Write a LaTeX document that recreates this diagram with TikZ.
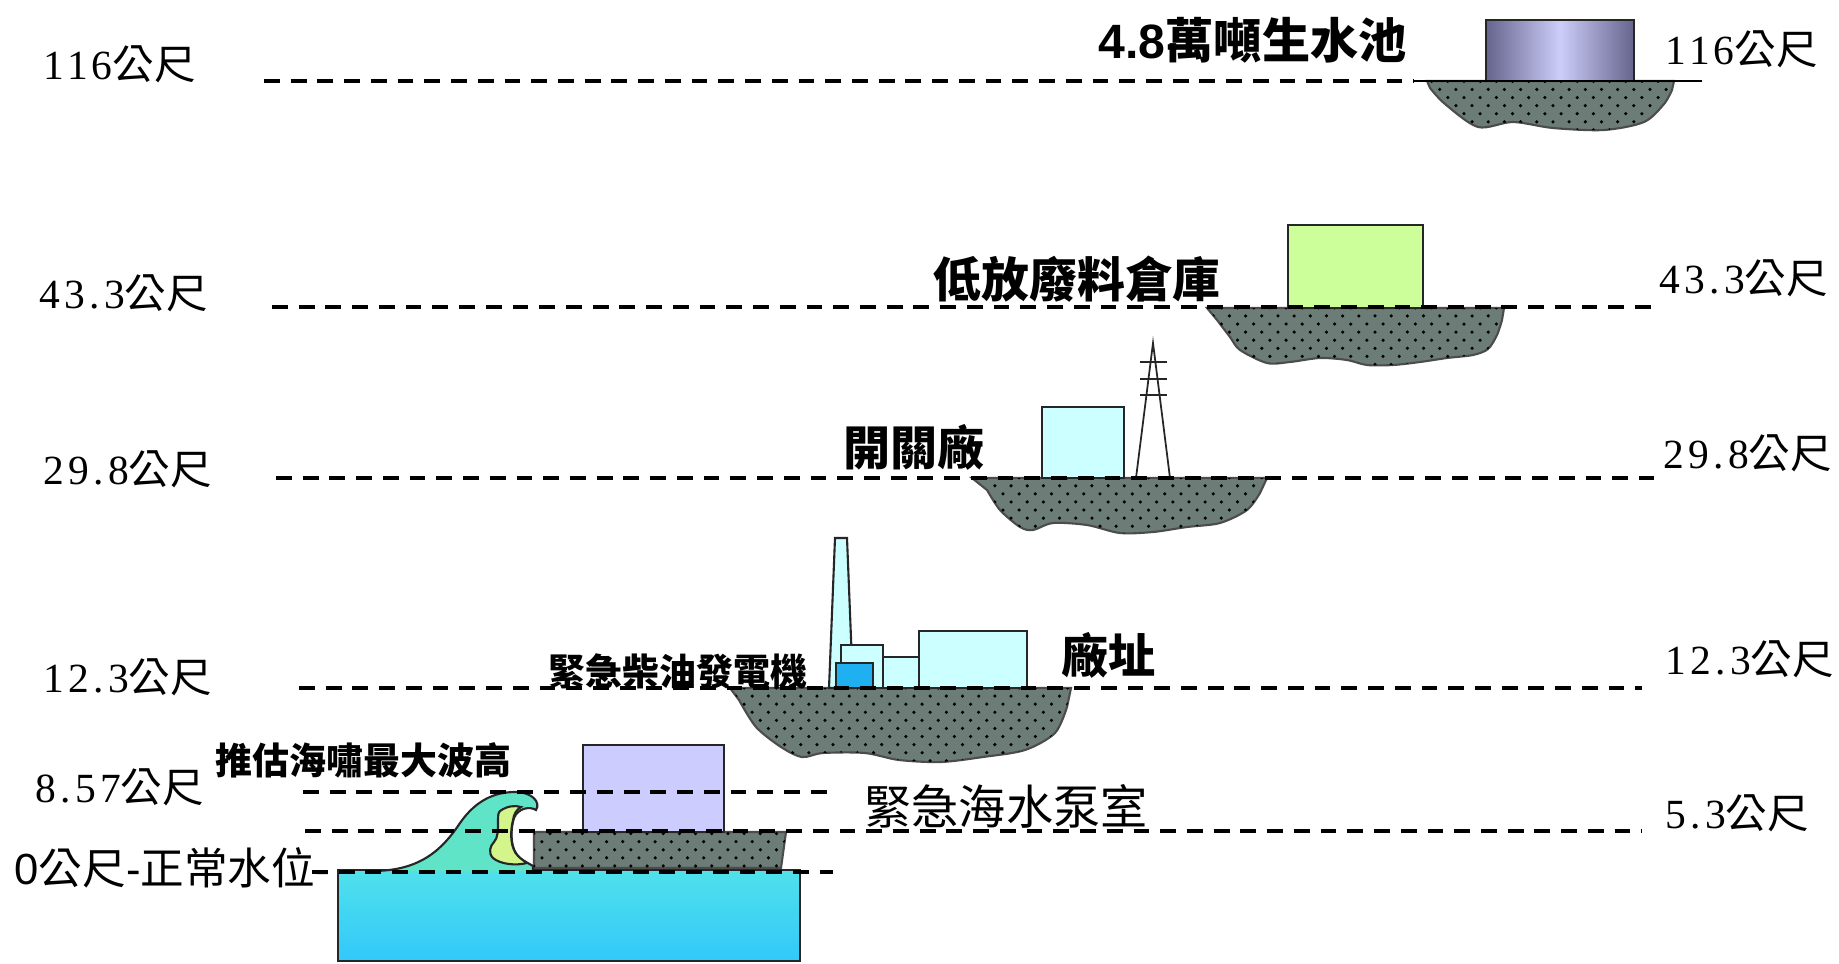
\documentclass[tikz,border=0pt]{standalone}
\usepackage{fontspec}
\setmainfont{Liberation Serif}
\newfontfamily\cjk{Noto Sans CJK TC}
\newfontfamily\arial{Liberation Sans}
\newfontfamily\digitfont[LetterSpace=10]{Liberation Serif}
\usetikzlibrary{patterns}

% staggered dots for the soil fill
\pgfdeclarepatternformonly{gravel}{\pgfqpoint{-0.6pt}{-0.6pt}}{\pgfqpoint{2.9pt}{2.9pt}}{\pgfqpoint{4.6pt}{4.6pt}}{%
  \pgfpathcircle{\pgfqpoint{0pt}{0pt}}{0.5pt}%
  \pgfpathcircle{\pgfqpoint{2.3pt}{2.3pt}}{0.5pt}%
  \pgfusepath{fill}%
}

\definecolor{soil}{RGB}{108,124,118}
\definecolor{building}{RGB}{204,255,255}
\definecolor{dieselblue}{RGB}{30,176,240}
\definecolor{wastegreen}{RGB}{204,255,153}
\definecolor{pumplilac}{RGB}{204,204,255}
\definecolor{pooledge}{RGB}{100,100,140}
\definecolor{poolmid}{RGB}{205,205,250}
\definecolor{seatop}{RGB}{80,225,235}
\definecolor{seabot}{RGB}{50,200,250}
\definecolor{wave}{RGB}{95,228,200}
\definecolor{curl}{RGB}{212,245,140}

\tikzset{
  ground/.style={fill=soil, postaction={pattern=gravel}, draw=black!70, line width=0.6pt},
  house/.style={draw=black!85, line width=0.6pt},
  level/.style={line width=1.1pt, dash pattern=on 4.5pt off 3.1pt},
  lvl/.style={inner sep=0, anchor=west, font=\digitfont\fontsize{11.8}{13}\selectfont},
  tag/.style={inner sep=0, anchor=west, font=\cjk\fontsize{13.4}{15}\selectfont},
  smalltag/.style={inner sep=0, anchor=west, font=\cjk\bfseries\fontsize{10.5}{12}\selectfont},
}

\begin{document}
\begin{tikzpicture}[x=0.01cm, y=-0.01cm]
  \fill[white] (0,0) rectangle (1839,963);
  \useasboundingbox (0,0) rectangle (1839,963);

  % soil under each level
  \draw[ground] (1427,81) -- (1674,81) -- plot[smooth, tension=0.5] coordinates
    {(1672,90) (1664,104) (1644,122) (1604,130) (1553,128) (1513,122) (1478,127) (1445,104) (1430,88)} -- cycle;
  \draw[ground] (1207,308) -- (1504,308) -- plot[smooth, tension=0.5] coordinates
    {(1502,320) (1497,335) (1488,349) (1473,355) (1447,358) (1420,362) (1393,365) (1367,365) (1347,360)
     (1320,358) (1290,362) (1267,363) (1240,350) (1230,337) (1217,320)} -- cycle;
  \draw[ground] (972,478) -- (1267,478) -- plot[smooth, tension=0.5] coordinates
    {(1260,493) (1247,510) (1220,523) (1187,527) (1153,532) (1120,533) (1087,525) (1053,523) (1033,530)
     (1020,527) (1000,510) (987,490)} -- cycle;
  \draw[ground] (730,688) -- (1071,688) -- plot[smooth, tension=0.5] coordinates
    {(1067,707) (1055,733) (1025,750) (983,757) (941,762) (899,760) (865,753) (823,753) (802,757)
     (781,747) (756,727) (739,700)} -- cycle;
  \draw[ground] (534,832) -- (786,832) -- (781,868) -- (534,868) -- cycle;

  % raw water pool
  \shade[left color=pooledge, right color=pooledge, middle color=poolmid] (1486,20) rectangle (1634,81);
  \draw[house] (1486,20) rectangle (1634,81);
  % radwaste store
  \draw[house, fill=wastegreen] (1288,225) rectangle (1423,308);
  % switchyard and pylon
  \draw[house, fill=building] (1042,407) rectangle (1124,478);
  \draw[house, line width=0.5pt] (1136,478) -- (1153,343) -- (1170,478);
  \foreach \y in {362,379,395}
    \draw[house, line width=0.5pt] (1140,\y) -- (1167,\y);
  % plant buildings, stack and diesel house
  \draw[house, fill=building] (829,688) -- (835,538) -- (847,538) -- (853,688) -- cycle;
  \draw[house, fill=building] (841,645) rectangle (883,688);
  \draw[house, fill=building] (883,657) rectangle (919,688);
  \draw[house, fill=building] (919,631) rectangle (1027,688);
  \draw[house, fill=dieselblue] (836,663) rectangle (873,688);
  % sea water pump room
  \draw[house, fill=pumplilac] (583,745) rectangle (724,832);

  % sea and tsunami wave
  \draw[house, top color=seatop, bottom color=seabot] (338,870) rectangle (800,961);
  \draw[house, fill=wave] (372,871)
    .. controls (420,871) and (442,850) .. (460,823)
    .. controls (476,800) and (495,792) .. (515,792)
    .. controls (532,792) and (541,802) .. (536,810)
    .. controls (530,806) and (518,808) .. (514,818)
    .. controls (510,830) and (510,850) .. (520,858)
    .. controls (525,862) and (530,864) .. (533,866) -- (533,871);
  \draw[house, fill=curl] (500,811)
    .. controls (507,806) and (515,805) .. (521,807)
    .. controls (516,810) and (514,814) .. (513,820)
    .. controls (510,832) and (510,848) .. (518,856)
    .. controls (521,859) and (524,861) .. (527,863)
    .. controls (515,866) and (500,864) .. (493,858)
    .. controls (488,853) and (490,846) .. (494,842)
    .. controls (498,838) and (498,830) .. (498,822)
    .. controls (498,816) and (498,813) .. (500,811) -- cycle;

  % elevation lines
  \foreach \xa/\xb/\y in {264/1414/81, 272/1654/307, 276/1654/478, 299/1642/688,
                          303/829/792, 305/1642/831, 312/833/872}
    \draw[level] (\xa,\y) -- (\xb,\y);
  \draw[line width=0.7pt] (1414,81) -- (1702,81);

  % elevations, left side
  \node[lvl] (l116) at (43,64) {116{\cjk 公尺}};
  \node[lvl] (l433) at (39,293) {43.3{\cjk 公尺}};
  \node[lvl] (l298) at (43,469) {29.8{\cjk 公尺}};
  \node[lvl] (l123) at (43,677) {12.3{\cjk 公尺}};
  \node[lvl] (l857) at (35,787) {8.57{\cjk 公尺}};
  \node[lvl, font=\fontsize{12.4}{14}\selectfont] (l0) at (14,868)
    {{\arial 0}{\cjk 公尺}{\arial -}{\cjk 正常水位}{\arial -}};
  % elevations, right side
  \node[lvl] (r116) at (1665,49) {116{\cjk 公尺}};
  \node[lvl] (r433) at (1659,278) {43.3{\cjk 公尺}};
  \node[lvl] (r298) at (1663,453) {29.8{\cjk 公尺}};
  \node[lvl] (r123) at (1665,659) {12.3{\cjk 公尺}};
  \node[lvl] (r53) at (1665,813) {5.3{\cjk 公尺}};

  % facility names
  \node[tag, font=\cjk\bfseries\fontsize{13.7}{15}\selectfont] (pool) at (1098,40) {{\arial\bfseries 4.8}萬噸生水池};
  \node[tag, font=\cjk\bfseries\fontsize{13.6}{15}\selectfont] (waste) at (933,279) {低放廢料倉庫};
  \node[tag, font=\cjk\bfseries\fontsize{13.4}{15}\selectfont] (switch) at (843,447) {開關廠};
  \node[tag, font=\cjk\bfseries\fontsize{13.4}{15}\selectfont] (site) at (1061,655) {廠址};
  \node[smalltag] (diesel) at (548,671) {緊急柴油發電機};
  \node[smalltag] (tsunami) at (215,760) {推估海嘯最大波高};
  \node[tag] (pump) at (864,806) {緊急海水泵室};
\end{tikzpicture}
\end{document}
